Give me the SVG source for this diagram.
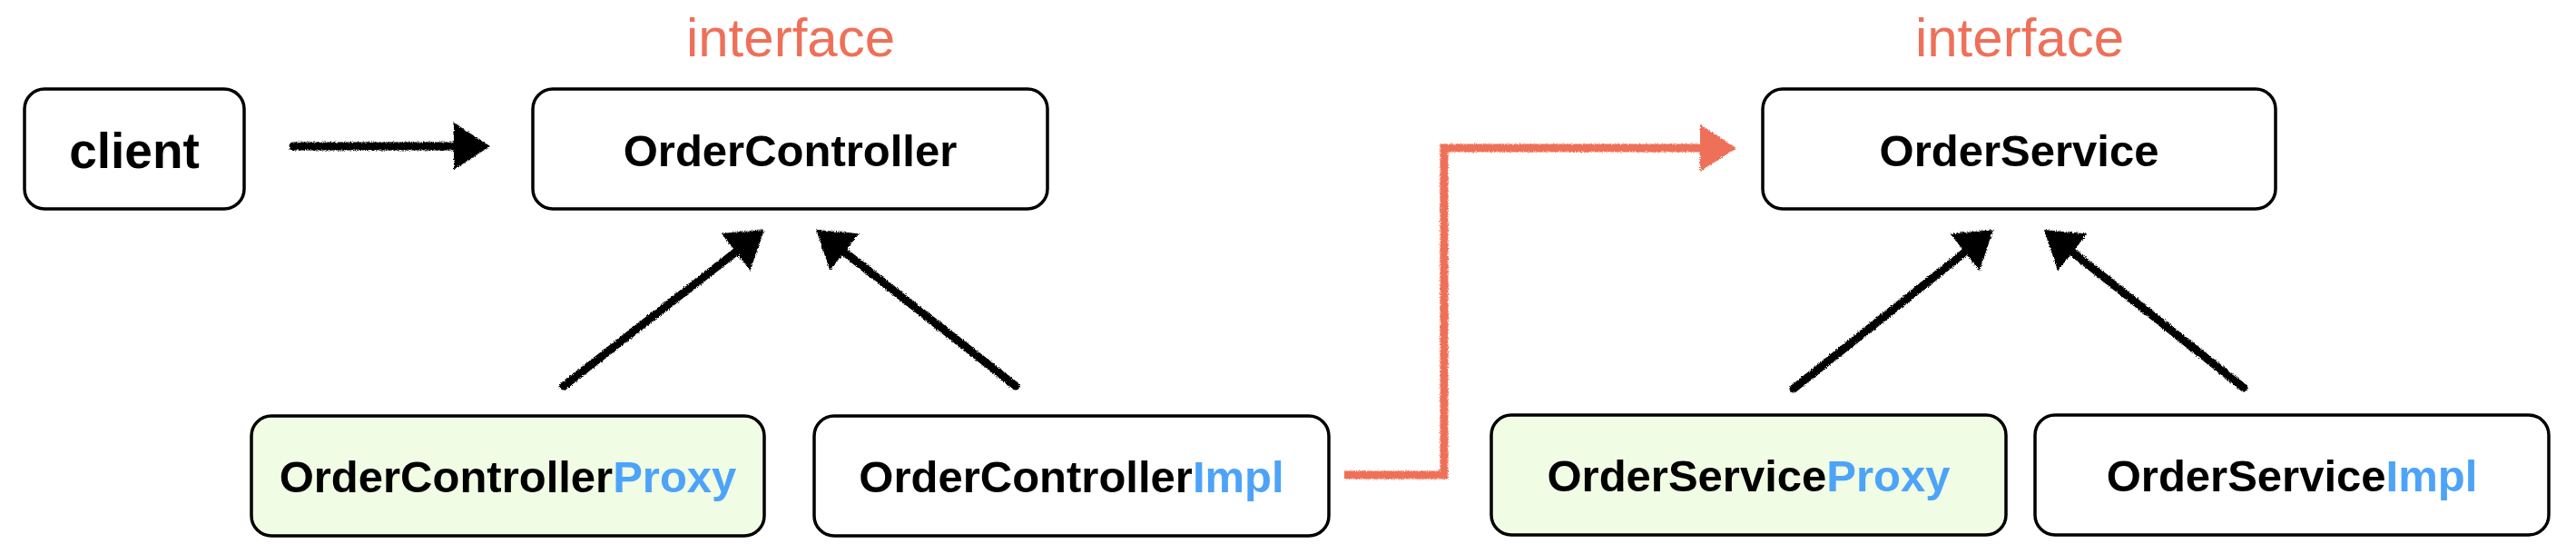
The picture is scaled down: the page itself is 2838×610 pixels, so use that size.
<svg xmlns="http://www.w3.org/2000/svg" width="2838" height="610" viewBox="0 0 2838 610">
  <style>
    .box { fill: #ffffff; stroke: #000000; stroke-width: 3.5; }
    .proxy { fill: #F1FCE4; }
    .lbl { font-family: "Liberation Sans", Arial, sans-serif; font-weight: bold; font-size: 49px; fill: #000000; text-anchor: middle; }
    .blue { fill: #4DA3F8; }
    .iface { font-family: "Liberation Sans", Arial, sans-serif; font-size: 60px; fill: #EE7059; text-anchor: middle; }
    .arrow { fill: none; stroke: #000000; stroke-width: 9; stroke-linecap: round; }
    .red { fill: none; stroke: #EE7059; stroke-width: 9; stroke-linejoin: miter; }
  </style>
  <defs>
    <filter id="rough" filterUnits="userSpaceOnUse" x="0" y="0" width="2838" height="610">
      <feTurbulence type="fractalNoise" baseFrequency="1.1" numOctaves="2" seed="3" result="n"/>
      <feDisplacementMap in="SourceGraphic" in2="n" scale="4" xChannelSelector="R" yChannelSelector="G"/>
    </filter>
    <marker id="headBlack" markerUnits="userSpaceOnUse" markerWidth="46" markerHeight="56" viewBox="0 0 46 56" refX="5" refY="28" orient="auto">
      <path d="M0,2 L40,28 L0,54 Z" fill="#000000"/>
    </marker>
    <marker id="headRed" markerUnits="userSpaceOnUse" markerWidth="46" markerHeight="56" viewBox="0 0 46 56" refX="5" refY="28" orient="auto">
      <path d="M0,2 L40,28 L0,54 Z" fill="#EE7059"/>
    </marker>
  </defs>

  <text class="iface" x="871" y="62">interface</text>
  <text class="iface" x="2225" y="62">interface</text>

  <g id="client">
    <rect class="box" x="27" y="98" width="242" height="132" rx="22"/>
    <text class="lbl" x="148" y="185" style="font-size:55px">client</text>
  </g>

  <g id="OrderController">
    <rect class="box" x="587" y="98" width="567" height="132" rx="22"/>
    <text class="lbl" x="870.5" y="183">OrderController</text>
  </g>

  <g id="OrderControllerProxy">
    <rect class="box proxy" x="277" y="458" width="565" height="132" rx="22"/>
    <text class="lbl" x="559.5" y="542">OrderController<tspan class="blue">Proxy</tspan></text>
  </g>

  <g id="OrderControllerImpl">
    <rect class="box" x="897" y="458" width="567" height="132" rx="22"/>
    <text class="lbl" x="1180.5" y="542">OrderController<tspan class="blue">Impl</tspan></text>
  </g>

  <g id="OrderService">
    <rect class="box" x="1942" y="98" width="565" height="132" rx="22"/>
    <text class="lbl" x="2224.5" y="183">OrderService</text>
  </g>

  <g id="OrderServiceProxy">
    <rect class="box proxy" x="1643" y="457" width="567" height="132" rx="22"/>
    <text class="lbl" x="1926.5" y="541">OrderService<tspan class="blue">Proxy</tspan></text>
  </g>

  <g id="OrderServiceImpl">
    <rect class="box" x="2242" y="457" width="566" height="132" rx="22"/>
    <text class="lbl" x="2525" y="541">OrderService<tspan class="blue">Impl</tspan></text>
  </g>

  <g id="connectors" filter="url(#rough)">
    <path class="arrow" d="M323,161 L505,161" marker-end="url(#headBlack)"/>
    <path class="arrow" d="M621,425 L814.4,274.5" marker-end="url(#headBlack)"/>
    <path class="arrow" d="M1119,425 L926.6,274.6" marker-end="url(#headBlack)"/>
    <path class="arrow" d="M1976,428 L2168.6,274.8" marker-end="url(#headBlack)"/>
    <path class="arrow" d="M2472,427 L2279.4,274.7" marker-end="url(#headBlack)"/>
    <path class="red" d="M1481,523 H1591 V163 H1878" marker-end="url(#headRed)"/>
  </g>
</svg>
